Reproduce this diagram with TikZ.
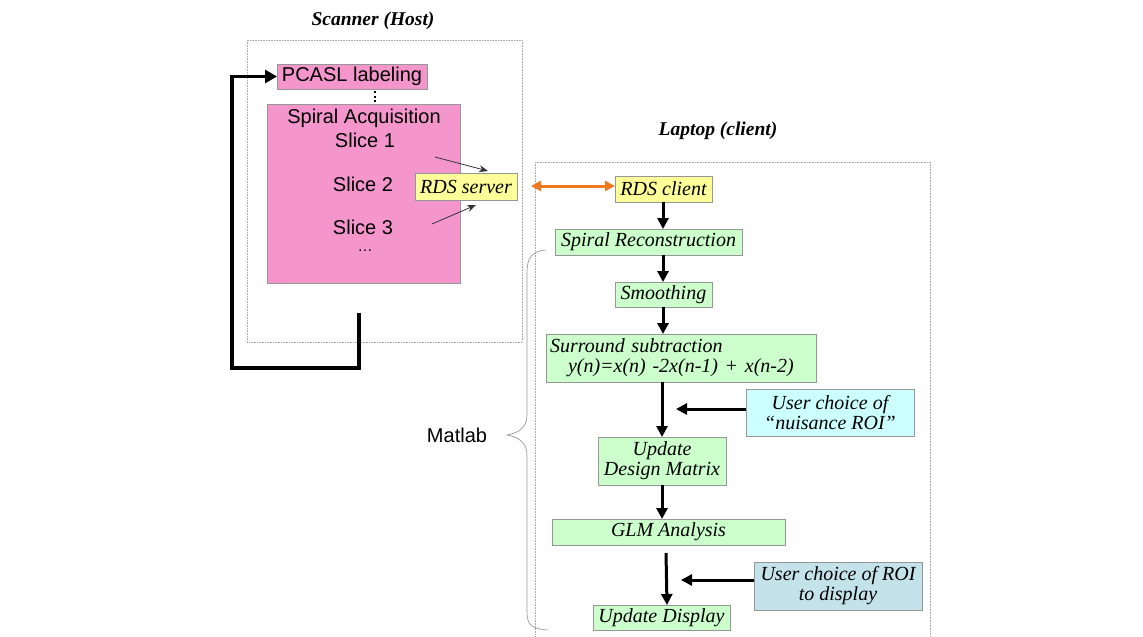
\documentclass[tikz,border=0pt]{standalone}
\usepackage{fontspec}
\setmainfont{Liberation Serif}
\setsansfont{Liberation Sans}
\usetikzlibrary{arrows.meta}
\definecolor{pinkbox}{RGB}{244,150,204}
\definecolor{greenbox}{RGB}{204,255,204}
\definecolor{yellowbox}{RGB}{255,255,153}
\definecolor{cyanbox}{RGB}{204,255,255}
\definecolor{bluebox}{RGB}{196,226,234}
\definecolor{boxline}{RGB}{150,150,150}
\definecolor{orangearrow}{RGB}{240,120,30}
\tikzset{
  every node/.style={inner sep=0pt, outer sep=0pt},
  frame/.style={draw=gray!70, densely dotted, line width=0.6pt},
  ttl/.style={font=\fontsize{19.5}{22}\selectfont\bfseries\itshape},
  pinkn/.style={draw=boxline, fill=pinkbox, line width=0.5pt},
  greenn/.style={draw=boxline, fill=greenbox, line width=0.5pt, font=\fontsize{20}{23}\selectfont\itshape, align=center},
  yellown/.style={draw=boxline, fill=yellowbox, line width=0.5pt, font=\fontsize{20}{23}\selectfont\itshape, align=center},
  usern/.style={draw=boxline, line width=0.5pt, font=\fontsize{20}{23}\selectfont\itshape, align=center},
  flow/.style={-{Triangle[length=11pt,width=11pt]}, line width=3pt},
  thin/.style={-{Stealth[length=9pt,width=7pt]}, line width=0.8pt, draw=black!80},
  sans/.style={font=\sffamily\fontsize{20}{23}\selectfont}
}
\begin{document}
\begin{tikzpicture}[x=1pt,y=-1pt]
\useasboundingbox (0,0) rectangle (1143,637);
% frames
\draw[frame] (247,40) rectangle (522,342);
\draw[frame] (535,162) -- (930,162) -- (930,640);
\draw[frame] (535,162) -- (535,640);
\node[ttl] (scantitle) at (373,21) {Scanner (Host)};
\node[ttl] (laptitle) at (718,131) {Laptop (client)};
% scanner side
\node[pinkn, minimum width=150pt, minimum height=25pt, sans] (pcasl) at (352,76.5) {PCASL labeling};
\node[pinkn, minimum width=193pt, minimum height=179pt] (spiral) at (363.5,193.5) {};
\node[sans] (sa) at (364,118) {Spiral Acquisition};
\node[sans] (s1) at (365,140) {Slice 1};
\node[sans] (s2) at (363,184) {Slice 2};
\node[sans] (s3) at (363,227) {Slice 3};
\node[sans] (dots) at (365,251) {\fontsize{15}{15}\selectfont\dots};
\coordinate (c375) at (375,0);
\draw[line width=2pt, dash pattern=on 2pt off 2.6pt] (pcasl.south -| c375) ++(0,2) -- (spiral.north -| c375);
\node[yellown, minimum width=102pt, minimum height=27pt] (server) at (466,186.5) {RDS server};
\coordinate (a1s) at (435,157);
\coordinate (a1e) at (488,171);
\coordinate (a2s) at (432,224);
\coordinate (a2e) at (476,205);
\draw[thin] (a1s) -- (a1e);
\draw[thin] (a2s) -- (a2e);
% feedback loop
\coordinate (fb0) at (359,313);
\coordinate (fb1) at (359,368);
\coordinate (fb2) at (232,368);
\coordinate (fb3) at (232,76.5);
\draw[-{Triangle[length=12pt,width=13pt]}, line width=3.4pt] (fb0) -- (fb1) -- (fb2) -- (fb3) -- (pcasl.west);
% laptop side
\coordinate (c663) at (663,0);
\coordinate (c662) at (662,0);
\coordinate (c667) at (667,0);
\node[yellown, minimum width=97pt, minimum height=26pt] (client) at (663.5,189) {RDS client};
\coordinate (orl) at (531,186);
\draw[{Triangle[length=10pt,width=10pt]}-{Triangle[length=10pt,width=10pt]}, orangearrow, line width=3pt] (orl) -- (client.west |- orl);
\node[greenn, minimum width=187pt, minimum height=26pt] (recon) at (648.5,242) {Spiral Reconstruction};
\node[greenn, minimum width=97pt, minimum height=25pt] (smooth) at (663.5,294.5) {Smoothing};
\node[greenn, text width=262pt, inner xsep=4pt, minimum height=48pt, align=left] (surr) at (681,358) {Surround subtraction\\[-3pt]\hspace*{18pt}y(n)=x(n) -2x(n-1) + x(n-2)};
\node[greenn, minimum width=128pt, minimum height=48pt] (design) at (662,461) {Update\\[-3pt]Design Matrix};
\node[greenn, minimum width=233pt, minimum height=26pt] (glm) at (668.5,532) {GLM Analysis};
\node[greenn, minimum width=137pt, minimum height=25pt] (disp) at (661.5,617.5) {Update Display};
\node[usern, fill=cyanbox, minimum width=168pt, minimum height=47pt] (nuis) at (830,412.5) {User choice of\\[-3pt]``nuisance ROI''};
\node[usern, fill=bluebox, minimum width=168pt, minimum height=48pt] (roi) at (838,586) {User choice of ROI\\[-3pt]to display};
\draw[flow] (client.south -| c663) -- (recon.north -| c663);
\draw[flow] (recon.south -| c663) -- (smooth.north -| c663);
\draw[flow] (smooth.south -| c663) -- (surr.north -| c663);
\draw[flow] (surr.south -| c662) -- (design.north -| c662);
\draw[flow] (design.south -| c662) -- (glm.north -| c662);
\coordinate (g1) at (666,553);
\draw[flow] (g1) -- (disp.north -| c667);
\coordinate (n1) at (676,409);
\draw[flow] (nuis.west |- n1) -- (n1);
\coordinate (r1) at (681,580);
\draw[flow] (roi.west |- r1) -- (r1);
% brace
\node[sans] (matlab) at (457,435) {Matlab};
\draw[gray!80, line width=0.7pt] (546,250) .. controls (532,251) and (527,258) .. (527,272) -- (527,415) .. controls (527,428) and (518,433) .. (507,435) .. controls (518,437) and (527,442) .. (527,455) -- (527,612) .. controls (527,625) and (532,629) .. (548,630);
\end{tikzpicture}
\end{document}
